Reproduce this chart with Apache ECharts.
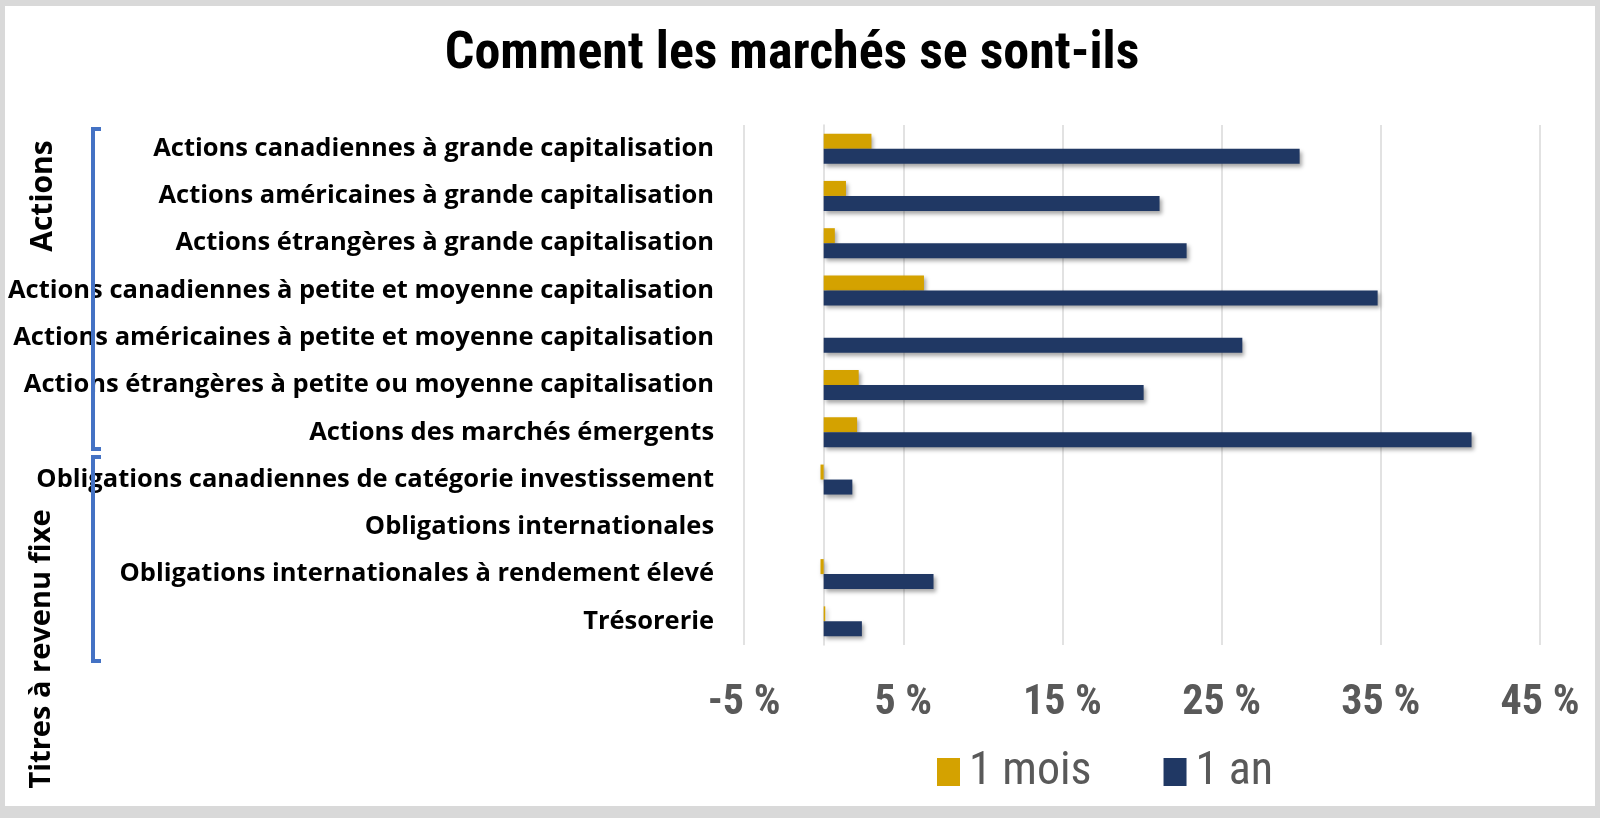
<!DOCTYPE html>
<html>
	<head>
		<meta charset="UTF-8">
		<title>Comment les marchés se sont-ils</title>
		<script type="text/javascript" src="https://cdn.jsdelivr.net/npm/echarts@6/dist/echarts.min.js"></script>
		<style>
			html,body{margin:0;padding:0;background:#fff;}
			#main{width:1600px;height:818px;box-sizing:border-box;border-style:solid;border-color:#d9d9d9;border-width:6px 5px 12px 5px;background:#fff;}
		</style>
	</head>
	<body>
		<div id="main"></div>
		<script type="text/javascript">
			var myChart=echarts.init(document.getElementById('main'));

			//catégories (de haut en bas)
			var categories=[
				'Actions canadiennes à grande capitalisation',
				'Actions américaines à grande capitalisation',
				'Actions étrangères à grande capitalisation',
				'Actions canadiennes à petite et moyenne capitalisation',
				'Actions américaines à petite et moyenne capitalisation',
				'Actions étrangères à petite ou moyenne capitalisation',
				'Actions des marchés émergents',
				'Obligations canadiennes de catégorie investissement',
				'Obligations internationales',
				'Obligations internationales à rendement élevé',
				'Trésorerie'
			];
			//rendements en %
			var unMois=[3.0,1.4,0.7,6.3,0.0,2.2,2.1,-0.2,0.0,-0.2,0.1];
			var unAn=[29.9,21.1,22.8,34.8,26.3,20.1,40.7,1.8,0.0,6.9,2.4];
			//graduations de l'axe x
			var xTicks=[-5,5,15,25,35,45];

			var narrow="'Liberation Sans Narrow','Roboto Condensed','Roboto',sans-serif";
			var shadow={shadowBlur:4,shadowOffsetX:2,shadowOffsetY:3,shadowColor:'rgba(0,0,0,0.35)'};

			var option={
				animation:false,
				title:{
					text:'Comment les marchés se sont-ils',
					left:782,
					top:18,
					textAlign:'center',
					textStyle:{fontFamily:narrow,fontWeight:'bold',fontSize:52,color:'#000'}
				},
				legend:{
					left:927,
					top:738,
					itemWidth:23,
					itemHeight:28,
					itemGap:72,
					icon:'rect',
					textStyle:{fontFamily:narrow,fontSize:46,color:'#595959',padding:[0,0,0,4]},
					data:['1 mois','1 an']
				},
				grid:{left:739,right:55,top:119,bottom:161,containLabel:false},
				xAxis:{
					type:'value',
					min:xTicks[0],
					max:xTicks[xTicks.length-1],
					interval:10,
					axisLine:{show:false},
					axisTick:{show:false},
					splitLine:{lineStyle:{color:'#d9d9d9',width:1.5}},
					axisLabel:{
						margin:37,
						fontFamily:narrow,
						fontWeight:'bold',
						fontSize:42,
						color:'#595959',
						formatter:function(v){return v+' %';}
					}
				},
				yAxis:{
					type:'category',
					inverse:true,
					data:categories,
					axisTick:{show:false},
					axisLine:{lineStyle:{color:'#d9d9d9',width:1.5}},
					axisLabel:{
						margin:30,
						fontFamily:"'Open Sans',sans-serif",
						fontWeight:'bold',
						fontSize:25.5,
						color:'#000'
					}
				},
				series:[
					{
						name:'1 mois',
						type:'bar',
						barWidth:15,
						barGap:'0%',
						itemStyle:Object.assign({color:'#d4a200'},shadow),
						data:unMois
					},
					{
						name:'1 an',
						type:'bar',
						barWidth:15,
						barGap:'0%',
						itemStyle:Object.assign({color:'#203864'},shadow),
						data:unAn
					}
				],
				graphic:[
					//accolades à gauche
					{type:'polyline',z:100,shape:{points:[[96,123],[88,123],[88,443],[96,443]]},style:{stroke:'#4472c4',lineWidth:4,fill:null}},
					{type:'polyline',z:100,shape:{points:[[96,451],[88,451],[88,655],[96,655]]},style:{stroke:'#4472c4',lineWidth:4,fill:null}},
					{type:'text',z:100,x:38,y:190,rotation:Math.PI/2,style:{text:'Actions',fontFamily:"'Open Sans',sans-serif",fontWeight:'bold',fontSize:30,fill:'#000',align:'center',verticalAlign:'middle'}},
					{type:'text',z:100,x:37,y:643,rotation:Math.PI/2,style:{text:'Titres à revenu fixe',fontFamily:"'Open Sans',sans-serif",fontWeight:'bold',fontSize:29,fill:'#000',align:'center',verticalAlign:'middle'}}
				]
			};

			myChart.setOption(option);
		</script>
	</body>
</html>
